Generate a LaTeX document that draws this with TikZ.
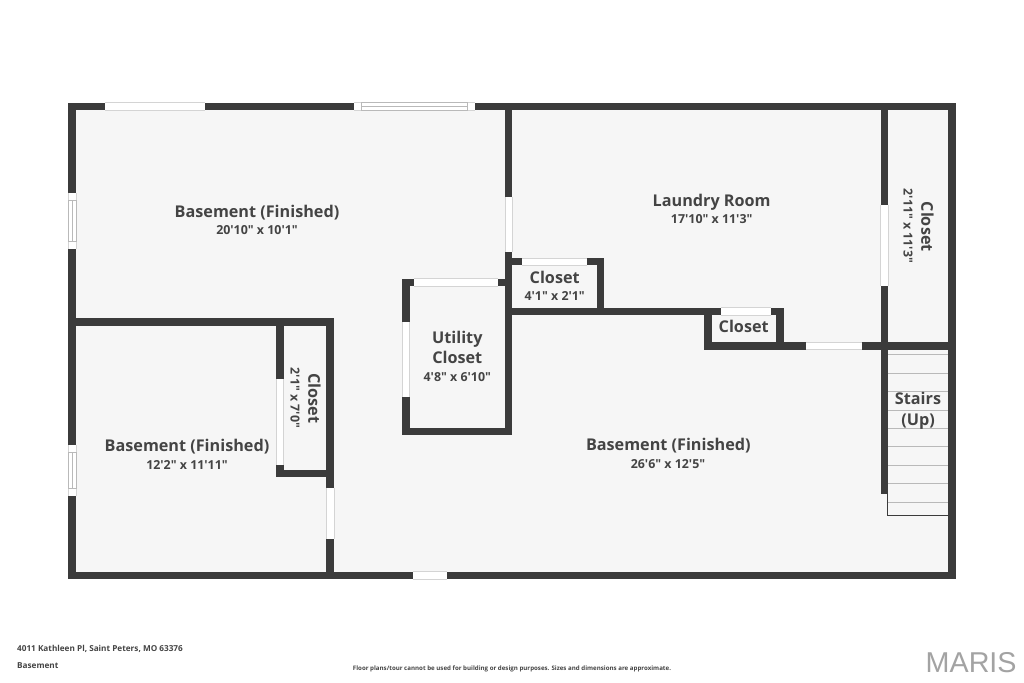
\documentclass[tikz,border=0pt]{standalone}
\usepackage{fontspec}
\setmainfont{Open Sans}
\newfontfamily\labelfont{Open Sans}
\newfontfamily\logofont{Liberation Sans}
\definecolor{wallc}{HTML}{3B3B3B}
\definecolor{textc}{HTML}{444444}
\definecolor{floorc}{HTML}{F6F6F6}
\definecolor{edgec}{HTML}{D4D4D4}
\definecolor{treadc}{HTML}{B9B9B9}
\tikzset{
  wall/.style={fill=wallc},
  roomname/.style={anchor=base,inner sep=0pt,text=textc,font=\fontsize{16.2}{18}\labelfont\bfseries},
  roomdim/.style={anchor=base,inner sep=0pt,text=textc,font=\fontsize{12.4}{14}\labelfont\bfseries},
  foot/.style={anchor=base west,inner sep=0pt,text=textc,font=\fontsize{8.2}{10}\labelfont\bfseries},
  edge/.style={edgec,line width=0.8pt},
  tread/.style={treadc,line width=1pt}
}
% horizontal and vertical openings: white with a light edge on the long sides
\newcommand{\gaph}[4]{\fill[white] (#1,#3) rectangle (#2,#4);
  \draw[edge] (#1,#3) -- (#2,#3) (#1,#4) -- (#2,#4);}
\newcommand{\gapv}[4]{\fill[white] (#1,#3) rectangle (#2,#4);
  \draw[edge] (#1,#3) -- (#1,#4) (#2,#3) -- (#2,#4);}
\begin{document}
\begin{tikzpicture}[x=1pt,y=-1pt]
\useasboundingbox (0,0) rectangle (1024,682);
\fill[white] (0,0) rectangle (1024,682);
\fill[floorc] (68.5,102.7) rectangle (955.6,579.2);
% outer walls
\fill[wall] (68.4,102.7) rectangle (955.6,110.2);
\fill[wall] (68.4,102.7) rectangle (76,579.2);
\fill[wall] (948.2,102.7) rectangle (955.6,579.2);
\fill[wall] (68.4,571.7) rectangle (955.6,579.2);
% central wall and utility closet
\fill[wall] (505,102.7) rectangle (512.4,435);
\fill[wall] (402,278.7) rectangle (409.6,435);
\fill[wall] (402,278.7) rectangle (505,286.2);
\fill[wall] (402,427.6) rectangle (512.4,435);
% upper closet and laundry lower wall
\fill[wall] (505,258) rectangle (604.3,265.4);
\fill[wall] (596.8,258) rectangle (604.3,315.4);
\fill[wall] (505,307.8) rectangle (783.7,315.4);
% small closet
\fill[wall] (704,307.8) rectangle (711.7,349.6);
\fill[wall] (776.3,307.8) rectangle (783.7,349.6);
\fill[wall] (704,342.1) rectangle (955.6,349.6);
% right closet wall
\fill[wall] (880.7,102.7) rectangle (888,493.8);
% lower left room
\fill[wall] (68.4,318.3) rectangle (334,325.8);
\fill[wall] (326.4,318.3) rectangle (334,579.2);
\fill[wall] (276,318.3) rectangle (283.6,477.3);
\fill[wall] (276,469.8) rectangle (334,477.3);
% openings
\gaph{105}{204.7}{102.7}{110.2}
\gaph{412.7}{447.3}{571.7}{579.2}
\gapv{505}{512.4}{197.3}{251.7}
\gaph{414.3}{498.3}{278.7}{286.2}
\gapv{402}{409.6}{322}{397}
\gaph{522.3}{586.7}{258}{265.4}
\gaph{720.7}{771.3}{307.8}{315.4}
\gaph{806.3}{861.7}{342.1}{349.6}
\gapv{880.7}{888}{204.7}{286}
\gapv{276}{283.6}{379.3}{465}
\gapv{326.4}{334}{487.7}{539.3}
% windows
\gaph{354}{475.3}{102.7}{110.2}
\draw[treadc,line width=0.8pt] (361.6,102.7) rectangle (467.7,110.2) (361.6,106.4) -- (467.7,106.4);
\gapv{68.4}{76}{192.7}{248.7}
\draw[treadc,line width=0.8pt] (68.4,200) rectangle (76,241.5) (72.2,200) -- (72.2,241.5);
\gapv{68.4}{76}{445}{495.7}
\draw[treadc,line width=0.8pt] (68.4,452.7) rectangle (76,488.3) (72.2,452.7) -- (72.2,488.3);
% stairs
\foreach \ty in {354.4,373,391.6,410,428.4,446.7,465,483.7,502}
  \draw[tread] (888,\ty) -- (948.2,\ty);
\draw[wallc,line width=1pt] (887.4,493.8) -- (887.4,515.2) -- (948.2,515.2);
% room labels
\node[roomname] (b1) at (257,217) {Basement (Finished)};
\node[roomdim] (b1d) at (257,234.3) {20'10" x 10'1"};
\node[roomname] (lr) at (711.7,206) {Laundry Room};
\node[roomdim] (lrd) at (711.7,223.3) {17'10" x 11'3"};
\node[roomname] (c1) at (554.7,283.3) {Closet};
\node[roomdim] (c1d) at (554.7,300.7) {4'1" x 2'1"};
\node[roomname] (c2) at (743.7,332.7) {Closet};
\node[roomname] (u1) at (457.3,343) {Utility};
\node[roomname] (u2) at (457.3,363.7) {Closet};
\node[roomdim] (ud) at (457.3,381) {4'8" x 6'10"};
\node[roomname] (b2) at (187,451.8) {Basement (Finished)};
\node[roomdim] (b2d) at (187,469.7) {12'2" x 11'11"};
\node[roomname] (b3) at (668.3,450.6) {Basement (Finished)};
\node[roomdim] (b3d) at (668,468) {26'6" x 12'5"};
\node[roomname] (s1) at (918,404.3) {Stairs};
\node[roomname] (s2) at (918,425.7) {(Up)};
\node[roomname,rotate=-90] (c3) at (921.4,226.7) {Closet};
\node[roomdim,rotate=-90] (c3d) at (903.7,226) {2'11" x 11'3"};
\node[roomname,rotate=-90] (c4) at (308.3,398.3) {Closet};
\node[roomdim,rotate=-90] (c4d) at (290.7,398) {2'1" x 7'0"};
% footer
\node[foot] (addr) at (17,651) {4011 Kathleen Pl, Saint Peters, MO 63376};
\node[foot] (lvl) at (17,668.2) {Basement};
\node[anchor=base,inner sep=0pt,text=textc,font=\fontsize{6.15}{7}\labelfont\bfseries] (note) at (512,670.7) {Floor plans/tour cannot be used for building or design purposes. Sizes and dimensions are approximate.};
\node[anchor=base west,inner sep=0pt,text=black!36,font=\fontsize{28.7}{30}\logofont] (logo) at (925.5,672.5) {MARIS};
\end{tikzpicture}
\end{document}
